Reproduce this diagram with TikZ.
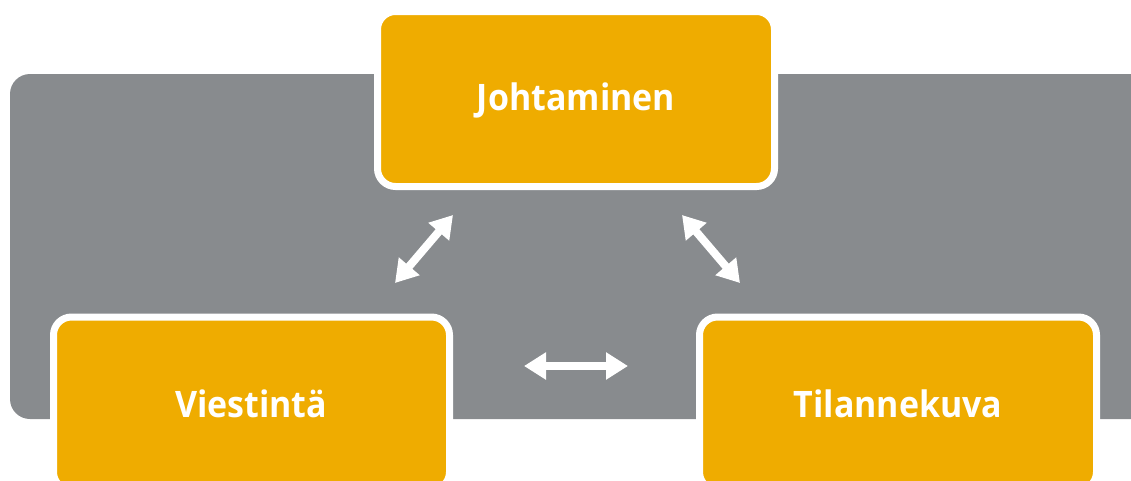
\documentclass[tikz,border=0pt]{standalone}
\usepackage{fontspec}
\setmainfont[FakeStretch=0.93]{Open Sans}
\usetikzlibrary{arrows.meta}
\definecolor{boxorange}{HTML}{EFAC00}
\definecolor{panelgray}{HTML}{888B8E}
\tikzset{
  box/.style={draw=white, line width=7pt, fill=boxorange, rounded corners=18pt, inner sep=0pt},
  lbl/.style={text=white, font=\fontsize{36.5}{40}\selectfont\bfseries, inner sep=0pt},
  dbl/.style={draw=white, line width=8pt, {Triangle[width=26pt,length=22pt]}-{Triangle[width=26pt,length=22pt]}}
}
\begin{document}
\begin{tikzpicture}[x=1pt,y=-1pt]
\useasboundingbox (0,0) rectangle (1131,480);
\clip (0,0) rectangle (1131,480);
\fill[panelgray, rounded corners=20pt] (10,74) rectangle (1160,419);
\node[box, minimum width=397pt, minimum height=175pt] (top) at (576,99) {};
\node[box, minimum width=396pt, minimum height=173pt, anchor=north] (left) at (251.5,313.5) {};
\node[box, minimum width=397pt, minimum height=173pt, anchor=north] (right) at (898,313.5) {};
\node[lbl] (ttop) at (576,100) {Johtaminen};
\node[lbl] (tleft) at (251,404) {Viestintä};
\node[lbl] (tright) at (898,404) {Tilannekuva};
\coordinate (a1) at (453,215);
\coordinate (a2) at (395,283);
\coordinate (b1) at (682,215);
\coordinate (b2) at (740,283);
\coordinate (c1) at (524,366);
\coordinate (c2) at (628,366);
\draw[dbl] (a1) -- (a2);
\draw[dbl] (b1) -- (b2);
\draw[dbl] (c1) -- (c2);
\end{tikzpicture}
\end{document}
